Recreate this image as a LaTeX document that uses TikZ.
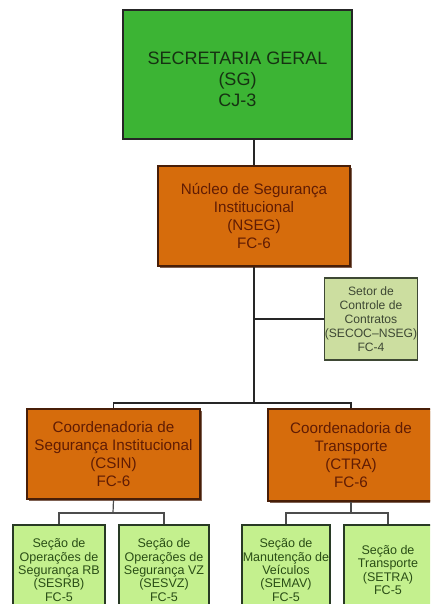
\documentclass[tikz,border=0pt]{standalone}
\usepackage{fontspec}
\setmainfont{Liberation Sans}
\definecolor{sggreen}{RGB}{60,180,52}
\definecolor{sgtext}{RGB}{22,50,18}
\definecolor{orgorange}{RGB}{214,108,12}
\definecolor{orgbrown}{RGB}{72,30,8}
\definecolor{orgtext}{RGB}{96,28,4}
\definecolor{secocfill}{RGB}{204,222,160}
\definecolor{secocline}{RGB}{62,72,52}
\definecolor{secfill}{RGB}{196,240,142}
\definecolor{secline}{RGB}{40,58,36}
\definecolor{sectext}{RGB}{42,78,22}
\usetikzlibrary{positioning,shadows}
\tikzset{
  sgbox/.style={draw=black!85, line width=1.5pt, fill=sggreen, inner sep=0pt, align=center, text=sgtext,
    font=\fontsize{13.5}{15.8}\selectfont, drop shadow={shadow xshift=1pt, shadow yshift=-1pt, opacity=0.6, fill=black}},
  orgbox/.style={draw=orgbrown, line width=1.5pt, fill=orgorange, inner sep=0pt, align=center, text=orgtext,
    font=\fontsize{11.4}{13.7}\selectfont, drop shadow={shadow xshift=1.5pt, shadow yshift=-1.5pt, opacity=0.7, fill=orgbrown}},
  secocbox/.style={draw=secocline, line width=1pt, fill=secocfill, inner sep=0pt, align=center, text=secocline,
    font=\fontsize{9.1}{10.5}\selectfont},
  secbox/.style={draw=secline, line width=1.2pt, fill=secfill, inner sep=0pt, align=center, text=sectext,
    font=\fontsize{9.4}{10.1}\selectfont},
  link/.style={draw=black!85, line width=1.1pt},
  sublink/.style={draw=black!70, line width=0.9pt}
}
\begin{document}
\begin{tikzpicture}[x=0.75pt, y=-0.75pt]
  \useasboundingbox (0,0) rectangle (430,604);
  \clip (0,0) rectangle (430,604);

  %--- top level ---
  \node[sgbox, minimum width=171.75pt, minimum height=96.75pt] (sg) at (237.5,74.5)
    {\rule{0pt}{17pt}SECRETARIA GERAL\\(SG)\\CJ-3};
  \node[orgbox, minimum width=144pt, minimum height=75pt] (nseg) at (254,216)
    {Núcleo de Segurança\\Institucional\\(NSEG)\\FC-6};
  \node[secocbox, minimum width=68.25pt, minimum height=61.5pt] (secoc) at (371,319)
    {Setor de\\Controle de\\Contratos\\(SECOC–NSEG)\\FC-4};

  %--- coordinators ---
  \node[orgbox, minimum width=129.75pt, minimum height=67.5pt] (csin) at (113.5,454)
    {Coordenadoria de\\Segurança Institucional\\(CSIN)\\FC-6};
  \node[orgbox, minimum width=124.5pt, minimum height=69pt] (ctra) at (351,455)
    {Coordenadoria de\\Transporte\\(CTRA)\\FC-6};

  %--- sections ---
  \node[secbox, minimum width=69pt, minimum height=67.5pt] (sesrb) at (59,570)
    {Seção de\\Operações de\\Segurança RB\\(SESRB)\\FC-5};
  \node[secbox, minimum width=67.5pt, minimum height=67.5pt] (sesvz) at (164,570)
    {Seção de\\Operações de\\Segurança VZ\\(SESVZ)\\FC-5};
  \node[secbox, minimum width=66pt, minimum height=67.5pt] (semav) at (286,570)
    {Seção de\\Manutenção de\\Veículos\\(SEMAV)\\FC-5};
  \node[secbox, minimum width=66pt, minimum height=67.5pt] (setra) at (388,570)
    {Seção de\\Transporte\\(SETRA)\\FC-5};

  %--- connectors ---
  \coordinate (bus) at (254,403);
  \coordinate (csinbus) at (113,513);
  \coordinate (ctrabus) at (351,513);

  \draw[link] (sg.south -| nseg.north) -- (nseg.north);
  \draw[link] (nseg.south) -- (bus);
  \draw[link] (nseg.south |- secoc.west) -- (secoc.west);
  \draw[link] (csin.north) |- (bus) -| (ctra.north);

  \draw[sublink] (csin.south) -- (csinbus);
  \draw[sublink] (sesrb.north) |- (csinbus) -| (sesvz.north);
  \draw[sublink] (ctra.south) -- (ctrabus);
  \draw[sublink] (semav.north) |- (ctrabus) -| (setra.north);
\end{tikzpicture}
\end{document}
